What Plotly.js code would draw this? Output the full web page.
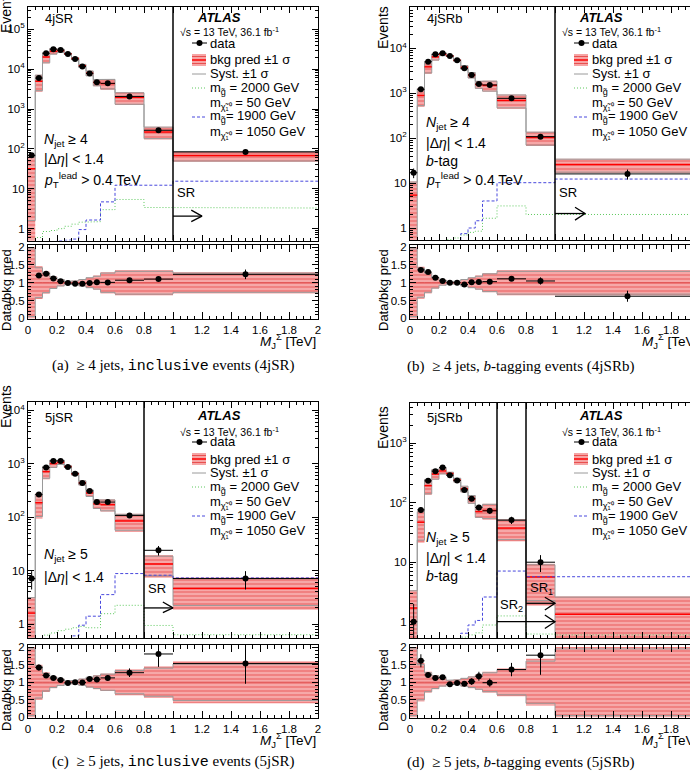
<!DOCTYPE html>
<html><head><meta charset="utf-8">
<script src="https://cdn.plot.ly/plotly-3.0.1.min.js"></script>
<style>body{margin:0;background:#fff}#plot{width:690px;height:778px}</style>
</head><body><div id="plot"></div>
<script>
const W = 690, H = 778;
const FONT = '"Liberation Sans", Arial, Helvetica, sans-serif';
const SERIF = '"Liberation Serif", "Times New Roman", serif';

// M_J^Sigma bin edges [TeV]
const binEdges = [0, 0.05, 0.1, 0.15, 0.2, 0.25, 0.3, 0.35, 0.4, 0.45, 0.5, 0.6, 0.8, 1.0, 2.0];

// ---- 4jSR ----
const data4jSR = [69, 5960, 25000, 31600, 30000, 24000, 17800, 11700, 7800, 4700, 4400, 2070, 293, 84];
const bkg4jSR  = [32, 4970, 20000, 28200, 28850, 24240, 18350, 12060, 7880, 4650, 4360, 1935, 266, 68];
const tot4jSR  = [1.0, 0.46, 0.31, 0.18, 0.10, 0.04, 0.06, 0.10, 0.15, 0.20, 0.30, 0.35, 0.35, 0.30];
const syst4jSR = [0.95, 0.42, 0.28, 0.16, 0.09, 0.035, 0.055, 0.09, 0.14, 0.18, 0.27, 0.32, 0.32, 0.27];
const sigG4jSR = [0.3, 0.6, 0.85, 0.9, 1.0, 1.15, 1.3, 1.45, 1.5, 1.5, 3.0, 5.4, 3.4, 3.3];
const sigB4jSR = [0.3, 0.3, 0.35, 0.4, 0.5, 0.52, 0.55, 0.95, 1.65, 1.65, 4.7, 12.3, 12.3, 15.5];

// ---- 4jSRb ----
const data4jSRb = [17, 1220, 5030, 7350, 7750, 6750, 5400, 3590, 2560, 1600, 1530, 770, 108, 16];
const bkg4jSRb  = [5.4, 897, 3870, 6450, 7380, 6750, 5400, 3780, 2535, 1570, 1485, 694, 103, 25.8];
const tot4jSRb  = [1.0, 0.45, 0.30, 0.17, 0.08, 0.03, 0.05, 0.10, 0.15, 0.20, 0.27, 0.35, 0.35, 0.35];
const syst4jSRb = [0.95, 0.41, 0.27, 0.15, 0.07, 0.027, 0.045, 0.09, 0.14, 0.18, 0.25, 0.32, 0.32, 0.32];
const sigG4jSRb = [0.2, 0.3, 0.35, 0.4, 0.5, 0.55, 0.6, 0.7, 0.8, 0.85, 1.65, 3.1, 2.0, 2.0];
const sigB4jSRb = [0.2, 0.2, 0.25, 0.3, 0.35, 0.4, 0.45, 0.75, 1.0, 1.45, 4.0, 10.2, 10.2, 12.3];

// ---- 5jSR ----
const data5jSR = [7.1, 265, 850, 1130, 1130, 870, 650, 435, 310, 192, 192, 108, 24, 7.1];
const bkg5jSR  = [1.6, 187, 714, 1009, 1066, 888, 650, 439, 284, 178, 171, 85, 13.3, 4.64];
const tot5jSR  = [1.0, 0.50, 0.28, 0.17, 0.10, 0.04, 0.06, 0.10, 0.15, 0.20, 0.25, 0.37, 0.45, 0.60];
const syst5jSR = [0.95, 0.45, 0.25, 0.15, 0.09, 0.035, 0.055, 0.09, 0.14, 0.18, 0.23, 0.33, 0.40, 0.52];
const sigG5jSR = [0.3, 0.5, 0.62, 0.68, 0.75, 0.8, 0.85, 0.9, 0.85, 0.85, 1.56, 2.24, 0.94, 0.63];
const sigB5jSR = [0.2, 0.2, 0.25, 0.3, 0.35, 0.45, 0.6, 0.95, 1.4, 1.4, 3.55, 8.8, 8.2, 7.3];

// ---- 5jSRb ----
const data5jSRb = [1.0, 75.7, 233, 339, 390, 290, 236, 164, 117, 83, 73, 51, 10, null];
const bkg5jSRb  = [1.7, 47, 193, 303, 342, 309, 241, 171, 115, 71, 74, 37.5, 5.65, 1.33];
const tot5jSRb  = [1.0, 0.55, 0.30, 0.20, 0.12, 0.06, 0.08, 0.12, 0.17, 0.22, 0.30, 0.40, 0.67, 1.0];
const syst5jSRb = [0.95, 0.50, 0.27, 0.18, 0.11, 0.055, 0.07, 0.11, 0.15, 0.20, 0.27, 0.36, 0.60, 0.95];
const sigG5jSRb = [0.2, 0.25, 0.3, 0.35, 0.4, 0.45, 0.5, 0.55, 0.6, 0.65, 0.88, 1.25, 0.62, 0.6];
const sigB5jSRb = [0.2, 0.2, 0.25, 0.3, 0.35, 0.4, 0.5, 0.64, 0.88, 1.05, 2.6, 7.1, 5.7, 5.7];

const panels = [
  {data: data4jSR, bkg: bkg4jSR, tot: tot4jSR, syst: syst4jSR, sg: sigG4jSR, sb: sigB4jSR,
   px: [28, 318], xr: [0, 2], main: [7, 240.5], ratio: [245, 319], logr: [-0.296, 5.557], full: true,
   srLines: [1.0], arrows: [{x0: 1.0, x1: 1.2, y: 2.07, hx: 1.126, yt: 2.93, yb: 1.5}],
   srLabels: [['SR', 175, 192]], label: '4jSR', yo: 0,
   cuts: [['<i>N</i><sub>jet</sub> ≥ 4', 140], ['|Δ<i>η</i>| &lt; 1.4', 159], ['<i>p</i><sub>T</sub><sup>lead</sup> &gt; 0.4 TeV', 180]],
   caption: '(a)  ≥ 4 jets, <span style="font-family:\'Liberation Mono\',monospace">inclusive</span> events (4jSR)', capX: 173, capY: 366},
  {data: data4jSRb, bkg: bkg4jSRb, tot: tot4jSRb, syst: syst4jSRb, sg: sigG4jSRb, sb: sigB4jSRb,
   px: [410, 690], xr: [0, 280 / 145], main: [7, 240], ratio: [245, 319], logr: [-0.267, 4.92], full: false,
   srLines: [1.0], arrows: [{x0: 1.0, x1: 1.207, y: 2.1, hx: 1.138, yt: 2.89, yb: 1.5}],
   srLabels: [['SR', 557, 192]], label: '4jSRb', yo: 0,
   cuts: [['<i>N</i><sub>jet</sub> ≥ 4', 123], ['|Δ<i>η</i>| &lt; 1.4', 143], ['<i>b</i>-tag', 161], ['<i>p</i><sub>T</sub><sup>lead</sup> &gt; 0.4 TeV', 180]],
   caption: '(b)  ≥ 4 jets, <i>b</i>-tagging events (4jSRb)', capX: 520, capY: 366},
  {data: data5jSR, bkg: bkg5jSR, tot: tot5jSR, syst: syst5jSR, sg: sigG5jSR, sb: sigB5jSR,
   px: [28, 318], xr: [0, 2], main: [402, 638], ratio: [645, 718], logr: [-0.262, 4.157], full: true,
   srLines: [0.8], arrows: [{x0: 0.8, x1: 1.0, y: 2.0, hx: 0.93, yt: 2.58, yb: 1.63}],
   srLabels: [['SR', 146, 588]], label: '5jSR', yo: 399,
   cuts: [['<i>N</i><sub>jet</sub> ≥ 5', 555], ['|Δ<i>η</i>| &lt; 1.4', 577]],
   caption: '(c)  ≥ 5 jets, <span style="font-family:\'Liberation Mono\',monospace">inclusive</span> events (5jSR)', capX: 173, capY: 762},
  {data: data5jSRb, bkg: bkg5jSRb, tot: tot5jSRb, syst: syst5jSRb, sg: sigG5jSRb, sb: sigB5jSRb,
   px: [410, 690], xr: [0, 280 / 145], main: [403, 638], ratio: [645, 718], logr: [-0.274, 3.676], full: false,
   srLines: [0.6, 0.8], arrows: [{x0: 0.6, x1: 1.0, y: 1.0, hx: 0.93, yt: 1.3, yb: 0.77},
                                 {x0: 0.8, x1: 1.0, y: 2.04, hx: 0.93, yt: 2.57, yb: 1.57}],
   srLabels: [['SR<sub>2</sub>', 498, 605], ['SR<sub>1</sub>', 528, 588]], label: '5jSRb', yo: 399,
   cuts: [['<i>N</i><sub>jet</sub> ≥ 5', 538], ['|Δ<i>η</i>| &lt; 1.4', 558], ['<i>b</i>-tag', 576]],
   caption: '(d)  ≥ 5 jets, <i>b</i>-tagging events (5jSRb)', capX: 520, capY: 762}
];

const P = px => px / W;
const Q = py => 1 - py / H;
const sfx = n => (n === 1 ? '' : String(n));

function stepXY(v) {
  const x = [], y = [];
  v.forEach((val, k) => { x.push(binEdges[k], binEdges[k + 1]); y.push(val, val); });
  return {x, y};
}
function segXY(v) {
  const x = [], y = [];
  v.forEach((val, k) => { x.push(binEdges[k], binEdges[k + 1], null); y.push(val, val, null); });
  return {x, y};
}
function boxXY(lo, hi) {
  const x = [], y = [];
  lo.forEach((l, k) => {
    const a = binEdges[k], b = binEdges[k + 1];
    x.push(a, b, b, a, a, null);
    y.push(l, l, hi[k], hi[k], l, null);
  });
  return {x, y};
}
const centers = binEdges.slice(0, -1).map((e, k) => (e + binEdges[k + 1]) / 2);
const halfW = binEdges.slice(0, -1).map((e, k) => (binEdges[k + 1] - e) / 2);

const GREEN = '#5cc85c', BLUE = '#4848dd', GREENDASH = '1px,2px', BLUEDASH = '3px,2px';
const bandStyle = {
  mode: 'lines', line: {width: 0}, fill: 'toself', fillcolor: '#f6a4a4',
  fillpattern: {shape: '-', fgcolor: '#ea5a5a', bgcolor: '#f6a8a8', size: 4, solidity: 0.25},
  hoverinfo: 'skip'
};

const traces = [];
const layout = {
  width: W, height: H, margin: {l: 0, r: 0, t: 0, b: 0}, showlegend: false,
  paper_bgcolor: '#fff', plot_bgcolor: '#fff', shapes: [], annotations: []
};

function minorLog(r) {
  const v = [];
  for (let d = Math.floor(r[0]) - 1; d <= Math.ceil(r[1]); d++)
    for (let k = 2; k <= 9; k++) v.push(k * Math.pow(10, d));
  return v;
}
function majorLog(r) {
  const vals = [], txt = [];
  for (let d = Math.ceil(r[0]); d <= Math.floor(r[1]); d++) {
    vals.push(Math.pow(10, d));
    txt.push(d === 0 ? '1' : d === 1 ? '10' : '10<sup>' + d + '</sup>');
  }
  return {vals, txt};
}

function txt(text, px, py, o) {
  return Object.assign({text: text, x: P(px), y: Q(py), xref: 'paper', yref: 'paper', showarrow: false,
    xanchor: 'left', yanchor: 'middle', font: {family: FONT, size: 13, color: '#000'}}, o || {});
}
function pline(x0, y0, x1, y1, color, width, dash) {
  return {type: 'line', xref: 'paper', yref: 'paper', x0: P(x0), y0: Q(y0), x1: P(x1), y1: Q(y1),
    line: {color: color, width: width, dash: dash || 'solid'}};
}

panels.forEach((p, i) => {
  const m = 2 * i + 1, r = 2 * i + 2;
  const xm = 'x' + sfx(m), ym = 'y' + sfx(m), xr = 'x' + sfx(r), yr = 'y' + sfx(r);
  const xd = [P(p.px[0]), P(p.px[1])];
  const common = {showline: true, linecolor: '#000', linewidth: 1, ticks: 'inside', tickcolor: '#000',
    tickwidth: 1, zeroline: false, showgrid: false, tickfont: {family: FONT, size: 11.5, color: '#000'}};
  const maj = majorLog(p.logr);
  layout['xaxis' + sfx(m)] = Object.assign({}, common, {domain: xd, range: p.xr, anchor: ym,
    showticklabels: false, tick0: 0, dtick: 0.2, ticklen: 6, mirror: 'ticks',
    minor: {ticks: 'inside', ticklen: 3, tick0: 0, dtick: 0.05, tickcolor: '#000'}});
  layout['yaxis' + sfx(m)] = Object.assign({}, common, {domain: [Q(p.main[1]), Q(p.main[0])], type: 'log',
    range: p.logr, anchor: xm, tickmode: 'array', tickvals: maj.vals, ticktext: maj.txt, ticklen: 6,
    mirror: p.full ? 'ticks' : false,
    minor: {ticks: 'inside', ticklen: 3, tickmode: 'array', tickvals: minorLog(p.logr), tickcolor: '#000'}});
  layout['xaxis' + sfx(r)] = Object.assign({}, common, {domain: xd, range: p.xr, anchor: yr,
    tick0: 0, dtick: 0.2, ticklen: 7, mirror: 'ticks',
    minor: {ticks: 'inside', ticklen: 3.5, tick0: 0, dtick: 0.05, tickcolor: '#000'}});
  layout['yaxis' + sfx(r)] = Object.assign({}, common, {domain: [Q(p.ratio[1]), Q(p.ratio[0])],
    range: [-0.02, 2.06], anchor: xr, tickmode: 'array', tickvals: [0, 0.5, 1, 1.5, 2],
    ticktext: ['0', '0.5', '1', '1.5', '2'], ticklen: 6, mirror: p.full ? 'ticks' : false,
    minor: {ticks: 'inside', ticklen: 3, tick0: 0, dtick: 0.1, tickcolor: '#000'}});

  // ---- main pad ----
  const lo = p.bkg.map((b, k) => Math.max(b * (1 - p.tot[k]), 1e-3));
  const hi = p.bkg.map((b, k) => b * (1 + p.tot[k]));
  traces.push(Object.assign({}, bandStyle, boxXY(lo, hi), {type: 'scatter', xaxis: xm, yaxis: ym}));
  const su = stepXY(p.bkg.map((b, k) => b * (1 + p.syst[k])));
  const sl = stepXY(p.bkg.map((b, k) => Math.max(b * (1 - p.syst[k]), 1e-3)));
  [su, sl].forEach(s => traces.push({type: 'scatter', mode: 'lines', x: s.x, y: s.y, xaxis: xm, yaxis: ym,
    line: {color: '#9a9a9a', width: 1}, hoverinfo: 'skip'}));
  const c = segXY(p.bkg);
  traces.push({type: 'scatter', mode: 'lines', x: c.x, y: c.y, xaxis: xm, yaxis: ym,
    line: {color: '#ff0000', width: 1.5}, hoverinfo: 'skip'});
  const g = stepXY(p.sg), bl = stepXY(p.sb);
  traces.push({type: 'scatter', mode: 'lines', x: g.x, y: g.y, xaxis: xm, yaxis: ym,
    line: {color: GREEN, width: 1, dash: GREENDASH}, hoverinfo: 'skip'});
  traces.push({type: 'scatter', mode: 'lines', x: bl.x, y: bl.y, xaxis: xm, yaxis: ym,
    line: {color: BLUE, width: 1, dash: BLUEDASH}, hoverinfo: 'skip'});
  const eUp = p.data.map(d => (d == null ? 0 : Math.sqrt(d)));
  const eDn = p.data.map(d => (d == null ? 0 : Math.min(Math.sqrt(d), 0.999 * d)));
  traces.push({type: 'scatter', mode: 'markers', x: centers, y: p.data, xaxis: xm, yaxis: ym,
    marker: {color: '#000', size: 6},
    error_x: {type: 'data', array: halfW, color: '#000', thickness: 1, width: 0},
    error_y: {type: 'data', symmetric: false, array: eUp, arrayminus: eDn, color: '#000', thickness: 1, width: 0}});
  p.arrows.forEach(a => traces.push({type: 'scatter', mode: 'lines', xaxis: xm, yaxis: ym,
    x: [a.x0, a.x1, null, a.hx, a.x1, a.hx], y: [a.y, a.y, null, a.yt, a.y, a.yb],
    line: {color: '#000', width: 1.3}, hoverinfo: 'skip'}));

  // ---- ratio pad ----
  traces.push(Object.assign({}, bandStyle,
    boxXY(p.tot.map(t => Math.max(1 - t, -0.1)), p.tot.map(t => 1 + t)), {type: 'scatter', xaxis: xr, yaxis: yr}));
  const ru = stepXY(p.syst.map(s => 1 + s)), rl = stepXY(p.syst.map(s => 1 - s));
  [ru, rl].forEach(s => traces.push({type: 'scatter', mode: 'lines', x: s.x, y: s.y, xaxis: xr, yaxis: yr,
    line: {color: '#9a9a9a', width: 1}, hoverinfo: 'skip'}));
  const rc = segXY(p.bkg.map(() => 1));
  traces.push({type: 'scatter', mode: 'lines', x: rc.x, y: rc.y, xaxis: xr, yaxis: yr,
    line: {color: '#e05050', width: 1}, hoverinfo: 'skip'});
  // first bin ratio lies off scale (not drawn in the reference)
  const ratio = p.data.map((d, k) => (k === 0 || d == null ? null : d / p.bkg[k]));
  const rErr = p.data.map((d, k) => (d == null ? 0 : Math.sqrt(d) / p.bkg[k]));
  traces.push({type: 'scatter', mode: 'markers', x: centers, y: ratio, xaxis: xr, yaxis: yr,
    marker: {color: '#000', size: 6},
    error_x: {type: 'data', array: halfW, color: '#000', thickness: 1, width: 0},
    error_y: {type: 'data', array: rErr, color: '#000', thickness: 1, width: 0}});

  // SR boundary lines
  p.srLines.forEach(v => layout.shapes.push({type: 'line', xref: xm, yref: ym + ' domain', x0: v, x1: v, y0: 0, y1: 1,
    line: {color: '#000', width: 1.5}}));

  // ---- text ----
  const x0 = p.px[0], yo = p.yo;
  const A = layout.annotations;
  A.push(txt(p.label, x0 + 15, 18 + yo, {font: {family: FONT, size: 13, color: '#000'}}));
  p.cuts.forEach(cu => A.push(txt(cu[0], x0 + 14, cu[1], {font: {family: FONT, size: 14, color: '#000'}})));
  p.srLabels.forEach(s => A.push(txt(s[0], s[1], s[2])));
  // legend
  A.push(txt('<b><i>ATLAS</i></b>', x0 + 167, 17 + yo));
  A.push(txt('√s = 13 TeV, 36.1 fb<sup>-1</sup>', x0 + 150, 32 + yo, {font: {family: FONT, size: 10.5, color: '#000'}}));
  A.push(txt('data', x0 + 180, 43 + yo));
  A.push(txt('bkg pred ±1 σ', x0 + 180, 60 + yo));
  A.push(txt('Syst. ±1 σ', x0 + 180, 74 + yo));
  A.push(txt('m<sub>g̃</sub> = 2000 GeV', x0 + 180, 88 + yo));
  A.push(txt('m<sub>χ̃₁⁰</sub> = 50 GeV', x0 + 180, 103 + yo));
  A.push(txt('m<sub>g̃</sub>= 1900 GeV', x0 + 180, 117 + yo));
  A.push(txt('m<sub>χ̃₁⁰</sub> = 1050 GeV', x0 + 180, 132 + yo));
  const S = layout.shapes;
  S.push(pline(x0 + 164, 43 + yo, x0 + 179, 43 + yo, '#000', 1));
  S.push({type: 'circle', xref: 'paper', yref: 'paper', x0: P(x0 + 168.5), x1: P(x0 + 174.5),
    y0: Q(46 + yo), y1: Q(40 + yo), fillcolor: '#000', line: {width: 0}});
  S.push({type: 'rect', xref: 'paper', yref: 'paper', x0: P(x0 + 164), x1: P(x0 + 178),
    y0: Q(66 + yo), y1: Q(54 + yo), fillcolor: '#f6a4a4', line: {width: 0}});
  [56.5, 63.5].forEach(yy => S.push(pline(x0 + 164, yy + yo, x0 + 178, yy + yo, '#e85050', 1)));
  S.push(pline(x0 + 164, 60 + yo, x0 + 178, 60 + yo, '#ff0000', 1.5));
  S.push(pline(x0 + 164, 74 + yo, x0 + 178, 74 + yo, '#9a9a9a', 1));
  S.push(pline(x0 + 164, 88 + yo, x0 + 178, 88 + yo, GREEN, 1, GREENDASH));
  S.push(pline(x0 + 164, 117 + yo, x0 + 178, 117 + yo, BLUE, 1, BLUEDASH));

  // axis titles
  const tx = p.full ? 6 : 383;
  A.push(txt('Events', tx, (p.full ? 12 : 28) + (yo ? (p.full ? 395 : 400) : 0), {textangle: -90, xanchor: 'center', font: {family: FONT, size: 14, color: '#000'}}));
  A.push(txt('Data/bkg pred', tx, p.ratio[0] + 45, {textangle: -90, xanchor: 'center', font: {family: FONT, size: 13, color: '#000'}}));
  const xEnd = p.px[0] + 145 * 2;
  A.push(txt('<i>M</i><sub>J</sub><sup>Σ</sup> [TeV]', xEnd, p.ratio[1] + 22, {xanchor: 'right', font: {family: FONT, size: 13.5, color: '#000'}}));
  A.push(txt(p.caption, p.capX, p.capY, {xanchor: 'center', font: {family: SERIF, size: 15, color: '#000'}}));
});

Plotly.newPlot('plot', traces, layout, {displayModeBar: false, staticPlot: true});
</script>
</body></html>
